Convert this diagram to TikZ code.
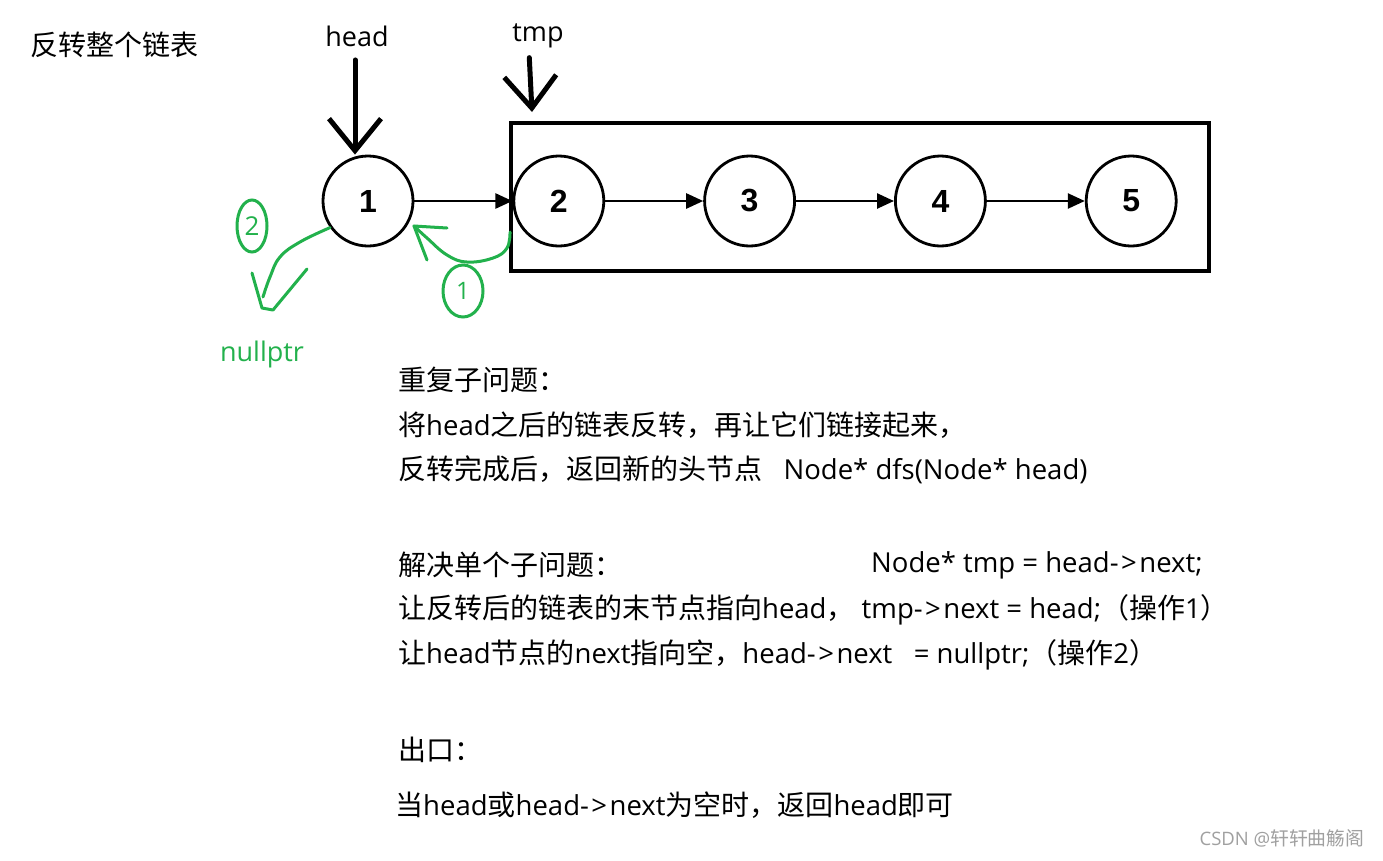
\documentclass[tikz,border=0pt]{standalone}
\usepackage{fontspec}
\setmainfont{Open Sans}
\newfontfamily\cjk[Scale=1.018]{Noto Sans CJK SC}
\newfontfamily\numfont{Liberation Sans}
% switch to the CJK font for ideographs and full-width punctuation
\newXeTeXintercharclass\zhclass
\newcount\zhc
\zhc="3000 \loop \XeTeXcharclass\zhc=\zhclass \advance\zhc by 1 \ifnum\zhc<"3040 \repeat
\zhc="4E00 \loop \XeTeXcharclass\zhc=\zhclass \advance\zhc by 1 \ifnum\zhc<"A000 \repeat
\zhc="FF00 \loop \XeTeXcharclass\zhc=\zhclass \advance\zhc by 1 \ifnum\zhc<"FF60 \repeat
\XeTeXinterchartoks 0 \zhclass = {\cjk}
\XeTeXinterchartoks 4095 \zhclass = {\cjk}
\XeTeXinterchartoks \zhclass 0 = {\normalfont}
\XeTeXinterchartoks \zhclass 4095 = {\normalfont}
\XeTeXinterchartokenstate=1
\newcommand\ptrop{-\kern2.5pt>\kern2.5pt}
\usetikzlibrary{arrows.meta,positioning,shapes.geometric}
\definecolor{penGreen}{RGB}{34,177,76}
\definecolor{markGray}{RGB}{160,160,160}

\begin{document}
\begin{tikzpicture}[x=1pt, y=-1pt,
    lnode/.style={draw, circle, line width=2.8pt, minimum size=90pt, inner sep=0pt, font=\numfont\bfseries\fontsize{32}{32}\selectfont},
    nxt/.style={-{Triangle[length=17pt, width=15pt]}, line width=2.5pt},
    ptr/.style={-{Straight Barb[length=32pt, width=52pt]}, line width=5pt, line cap=round},
    txt/.style={anchor=west, inner sep=0pt, font=\fontsize{27.5}{30}\selectfont},
    pen/.style={penGreen, line width=3pt, line cap=round, line join=round},
    opmark/.style={draw=penGreen, ellipse, line width=3pt, inner sep=0pt, text=penGreen}
]
\fill[white] (0,0) rectangle (1383,860);
\useasboundingbox (0,0) rectangle (1383,860);

% title
\node[txt] (title) at (30,45) {反转整个链表};

% list nodes
\node[lnode] (n1) at (368,201) {1};
\node[lnode, right=98pt of n1] (n2) {2};
\node[lnode, right=98pt of n2] (n3) {3};
\node[lnode, right=98pt of n3] (n4) {4};
\node[lnode, right=98pt of n4] (n5) {5};

\draw[nxt] (n1) -- (n2);
\draw[nxt] (n2) -- (n3);
\draw[nxt] (n3) -- (n4);
\draw[nxt] (n4) -- (n5);

% sub list
\node[draw, line width=4pt, minimum width=698pt, minimum height=148pt, inner sep=0pt] (box) at (860,197) {};

% pointers
\node[font=\fontsize{27}{27}\selectfont] (headlbl) at (357,36) {head};
\node[font=\fontsize{27}{27}\selectfont] (tmplbl) at (538,36) {tmp};
\coordinate (tmptip) at ([xshift=23pt, yshift=9pt]box.north west);
\draw[ptr, shorten <=10pt] ([xshift=-2pt]headlbl.south) -- ([xshift=-2pt]headlbl.south |- n1.north);
\draw[ptr, shorten <=6pt] ([xshift=-9pt]tmplbl.south) -- (tmptip);

% step 1: tmp->next = head
\draw[pen] plot[smooth, tension=0.7] coordinates {(510,232) (507,248) (493,258) (467,262) (447,255) (427,238) (414,226)};
\draw[pen] (447,228) -- (414,226) -- (427,260);
\node[opmark, minimum width=40pt, minimum height=52pt, font=\fontsize{24}{24}\selectfont] (op1) at (463,291) {1};

% step 2: head->next = nullptr
\draw[pen] plot[smooth, tension=0.7] coordinates {(n1.215) (300,242) (280,257) (270,277) (263,297)};
\draw[pen] (252,273) -- (262,308) -- (273,310) -- (307,269);
\node[opmark, minimum width=30pt, minimum height=52pt, font=\fontsize{26}{26}\selectfont] (op2) at (252,226) {2};
\node[text=penGreen, font=\fontsize{27}{27}\selectfont] (nul) at (262,354) {nullptr};

% notes
\node[txt] (q1) at (398,380) {重复子问题：};
\node[txt] (q2) at (398,425) {将head之后的链表反转，再让它们链接起来，};
\node[txt] (q3) at (398,470) {反转完成后，返回新的头节点\ \ \ Node* dfs(Node* head)};

\node[txt] (s1) at (398,565) {解决单个子问题：};
\node[txt] (s1b) at (871,565) {Node* tmp = head\ptrop next;};
\node[txt] (s2) at (398,610) {让反转后的链表的末节点指向head，\ tmp\ptrop next = head;（操作1）};
\node[txt] (s3) at (398,655) {让head节点的next指向空，head\ptrop next\ \ \ = nullptr;（操作2）};

\node[txt] (e1) at (398,750) {出口：};
\node[txt] (e2) at (395,805) {当head或head\ptrop next为空时，返回head即可};

\node[anchor=east, text=markGray, font=\fontsize{18.5}{18.5}\selectfont] (mark) at (1368,838) {CSDN @轩轩曲觞阁};
\end{tikzpicture}
\end{document}
